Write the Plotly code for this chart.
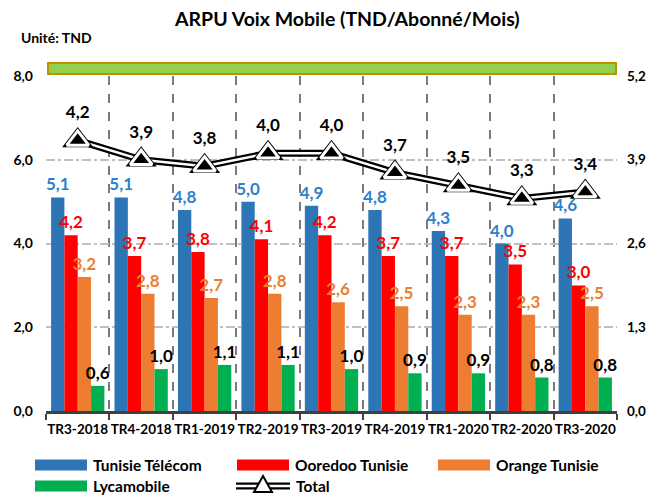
import plotly.graph_objects as go

categories = ["TR3-2018", "TR4-2018", "TR1-2019", "TR2-2019", "TR3-2019",
              "TR4-2019", "TR1-2020", "TR2-2020", "TR3-2020"]
tunisie_telecom = [5.1, 5.1, 4.8, 5.0, 4.9, 4.8, 4.3, 4.0, 4.6]
ooredoo = [4.2, 3.7, 3.8, 4.1, 4.2, 3.7, 3.7, 3.5, 3.0]
orange = [3.2, 2.8, 2.7, 2.8, 2.6, 2.5, 2.3, 2.3, 2.5]
lycamobile = [0.6, 1.0, 1.1, 1.1, 1.0, 0.9, 0.9, 0.8, 0.8]
total = [4.2, 3.9, 3.8, 4.0, 4.0, 3.7, 3.5, 3.3, 3.4]

left_ticks = [0, 2, 4, 6, 8]
right_ticks = [0, 1.3, 2.6, 3.9, 5.2]

FONT = "Lato"
series = [
    ("Tunisie Télécom", tunisie_telecom, "#2E75B6", "#2F80CC"),
    ("Ooredoo Tunisie", ooredoo, "#FF0000", "#FF0000"),
    ("Orange Tunisie", orange, "#ED7D31", "#ED7D31"),
    ("Lycamobile", lycamobile, "#00B050", "#000000"),
]

fig = go.Figure()
for name, vals, col, tcol in series:
    fig.add_trace(go.Bar(
        x=categories, y=vals, name=name, marker=dict(color=col, line=dict(width=0)),
        texttemplate="%{y:.1f}", textposition="outside", constraintext="none",
        textfont=dict(family=FONT, size=17, color=tcol, weight="bold"),
        cliponaxis=False, showlegend=False,
    ))

# Total: double line with triangle markers on secondary axis
fig.add_trace(go.Scatter(x=categories, y=total, yaxis="y2", mode="lines",
                         line=dict(color="black", width=7), showlegend=False,
                         hoverinfo="skip"))
fig.add_trace(go.Scatter(x=categories, y=total, yaxis="y2", mode="lines",
                         line=dict(color="white", width=2.5), showlegend=False,
                         hoverinfo="skip"))
fig.add_trace(go.Scatter(x=categories, y=total, yaxis="y2", mode="markers+text",
                         marker=dict(symbol="triangle-up", size=27, color="black"),
                         texttemplate="%{y:.1f}", textposition="top center",
                         textfont=dict(family=FONT, size=17, color="black", weight="bold"),
                         cliponaxis=False, showlegend=False, name="Total"))
fig.add_trace(go.Scatter(x=categories, y=total, yaxis="y2", mode="markers",
                         marker=dict(symbol="triangle-up", size=19, color="black",
                                     line=dict(color="white", width=3)),
                         cliponaxis=False, showlegend=False, hoverinfo="skip"))

# page body offset (browser default margin)
OFF = 8
W, H = 656, 501
# plot area in screen pixels
SL, SR, ST, SB = 46, 617, 76, 411
L, T = SL - OFF, ST - OFF
R, B = W - (SR - OFF), H - (SB - OFF)
pw, ph = W - L - R, H - T - B

def px(x):
    return (x - OFF - L) / pw

def py(y):
    return (H - B - (y - OFF)) / ph

shapes = [
    dict(type="rect", xref="paper", yref="paper", x0=px(48), x1=px(616),
         y0=py(74), y1=py(63), fillcolor="#92D050",
         line=dict(color="#BF9000", width=2), layer="above"),
]
annotations = [
    dict(text="<b>ARPU Voix Mobile (TND/Abonné/Mois)</b>", xref="paper", yref="paper",
         x=px(347), y=py(19), xanchor="center", yanchor="middle", showarrow=False,
         font=dict(family=FONT, size=19.5, color="black")),
    dict(text="<b>Unité: TND</b>", xref="paper", yref="paper", x=px(19), y=py(38),
         xanchor="left", yanchor="middle", showarrow=False,
         font=dict(family=FONT, size=14, color="black")),
]

# custom legend
R1, R2 = 465, 486
legend_items = [
    ("Tunisie Télécom", "#2E75B6", 35, R1),
    ("Ooredoo Tunisie", "#FF0000", 237, R1),
    ("Orange Tunisie", "#ED7D31", 438, R1),
    ("Lycamobile", "#00B050", 35, R2),
]
for name, col, x0, yc in legend_items:
    shapes.append(dict(type="rect", xref="paper", yref="paper", x0=px(x0), x1=px(x0 + 52),
                       y0=py(yc + 5.5), y1=py(yc - 5.5), fillcolor=col, line=dict(width=0)))
    annotations.append(dict(text="<b>" + name + "</b>", xref="paper", yref="paper",
                            x=px(x0 + 56), y=py(yc), xanchor="left", yanchor="middle",
                            showarrow=False, font=dict(family=FONT, size=15.5, color="black")))
# Total legend symbol
LY = R2
shapes.append(dict(type="line", xref="paper", yref="paper", x0=px(236), x1=px(290),
                   y0=py(LY), y1=py(LY), line=dict(color="black", width=7)))
shapes.append(dict(type="line", xref="paper", yref="paper", x0=px(236), x1=px(290),
                   y0=py(LY), y1=py(LY), line=dict(color="white", width=2.5)))
shapes.append(dict(type="path", xref="paper", yref="paper",
                   path="M {} {} L {} {} L {} {} Z".format(px(254), py(LY + 6), px(263), py(LY - 10),
                                                          px(272), py(LY + 6)),
                   fillcolor="white", line=dict(color="black", width=2)))
annotations.append(dict(text="<b>Total</b>", xref="paper", yref="paper", x=px(294), y=py(LY),
                        xanchor="left", yanchor="middle", showarrow=False,
                        font=dict(family=FONT, size=15.5, color="black")))

fig.update_layout(
    width=W, height=H, margin=dict(l=L, r=R, t=T, b=B, autoexpand=False),
    paper_bgcolor="white", plot_bgcolor="white",
    separators=", ", barmode="group", bargap=0.16, bargroupgap=0,
    font=dict(family=FONT, color="black"),
    shapes=shapes, annotations=annotations, showlegend=False,
    xaxis=dict(type="category", range=[-0.5, len(categories) - 0.5],
               tickson="boundaries", ticks="outside", ticklen=6,
               tickcolor="#404040", tickwidth=2, showline=True, linecolor="#404040",
               linewidth=3, showgrid=True, gridcolor="#7A7A7A", griddash="dash",
               gridwidth=1.5, tickangle=0, automargin=False, ticklabelstandoff=4,
               tickfont=dict(family=FONT, size=13.5, weight="bold"),
               fixedrange=True),
    yaxis=dict(range=[0, 8], tickvals=left_ticks, tickformat=".1f", showgrid=True,
               gridcolor="#BFBFBF", griddash="dashdot", gridwidth=2, zeroline=False,
               showline=False, ticks="", ticklabelstandoff=12, automargin=False,
               tickfont=dict(family=FONT, size=14, weight="bold")),
    yaxis2=dict(range=[0, 5.2], tickvals=right_ticks, tickformat=".1f", overlaying="y",
                side="right", showgrid=False, zeroline=False, showline=False, ticks="",
                ticklabelstandoff=9, automargin=False,
                tickfont=dict(family=FONT, size=13.5, weight="bold")),
)

fig.write_html("out.html")
